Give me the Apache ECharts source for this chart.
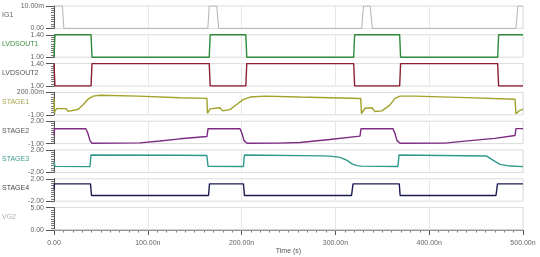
<!DOCTYPE html>
<html><head><meta charset="utf-8">
<script src="https://cdn.jsdelivr.net/npm/echarts@6/dist/echarts.min.js"></script>
<style>html,body{margin:0;padding:0;background:#fff}#c{width:540px;height:257px}</style>
</head><body><div id="c"></div>
<script>
const names = ['IG1','LVDSOUT1','LVDSOUT2','STAGE1','STAGE2','STAGE3','STAGE4','VG2'];
const yMin = [0, 1.0, 1.0, -1, -1, -2, -2, 0];
const yMax = [10, 1.4, 1.4, 0.2, 2, 2, 2, 5];
const yTopLabels = ['10.00m','1.40','1.40','200.00m','2.00','2.00','2.00','5.00'];
const yBottomLabels = ['0.00','1.00','1.00','-1.00','-1.00','-2.00','-2.00','0.00'];
const xTicks = [0,100,200,300,400,500];
const xTickLabels = ['0.00','100.00n','200.00n','300.00n','400.00n','500.00n'];
const xTitle = 'Time (s)';

// time in ns, values in panel units (IG1 in m)
const ig1 = [[0,10],[9,10],[10.5,0],[164,0],[165.5,10],[173.5,10],[175.5,0],[328,0],[330,10],[337,10],[339.5,0],[492.5,0],[494.5,10],[500,10]];
const lvdsout1 = [[0,1.0],[1,1.4],[39.5,1.4],[40.5,1.0],[165.5,1.0],[166.5,1.4],[204.5,1.4],[205.5,1.0],[319.5,1.0],[320.5,1.4],[368.5,1.4],[369.5,1.0],[473,1.0],[474,1.4],[500,1.4]];
const lvdsout2 = [[0,1.4],[1,1.0],[39.5,1.0],[40.5,1.4],[165.5,1.4],[166.5,1.0],[204.5,1.0],[205.5,1.4],[319.5,1.4],[320.5,1.0],[368.5,1.0],[369.5,1.4],[473,1.4],[474,1.0],[500,1.0]];
const stage1 = [[0,-0.12],[0.5,-0.92],[1.1,-0.79],[2.9,-0.67],[12.8,-0.67],[13.5,-0.57],[15.2,-0.82],[25.9,-0.70],[31.2,-0.45],[36.6,-0.15],[41.9,0.0],[49,0.05],[90,0.0],[134.3,-0.085],[163,-0.12],
  [163.6,-0.92],[166.3,-0.68],[176.9,-0.62],[178.8,-0.57],[179.9,-0.79],[187.6,-0.72],[195.1,-0.435],[201.5,-0.185],[209,-0.05],[225,0.0],[262,-0.05],[327,-0.13],
  [327.8,-0.93],[331.6,-0.65],[339,-0.62],[340,-0.57],[342,-0.82],[349.7,-0.79],[358,-0.485],[363.5,-0.12],[369,0.0],[385,0.0],[440,-0.08],[491.5,-0.17],
  [492.5,-0.95],[495.7,-0.79],[500,-0.7]];
const stage2 = [[0,0.09],[0.5,1.0],[34,0.98],[36.2,0.36],[38.4,-0.6],[40.5,-0.96],[91.7,-0.9],[113,-0.66],[134.3,-0.36],[163.1,-0.05],
  [164.2,1.0],[198.3,0.98],[200.4,0.36],[202.6,-0.6],[205.8,-0.96],[240,-0.93],[262.3,-0.86],[294,-0.46],[326.2,0.0],
  [327.3,1.0],[361.4,0.98],[363.5,0.36],[365.7,-0.6],[368.9,-0.96],[416.8,-0.93],[443.5,-0.6],[470,-0.3],[491.5,0.09],
  [492.5,1.0],[500,1.0]];
const stage3 = [[0,-0.08],[1,-0.92],[38.4,-0.97],[39.4,1.1],[134,1.05],[163,1.01],
  [164.2,-0.92],[202,-0.95],[203,1.1],[286.8,0.95],[294.2,0.9],[305,0.68],[312.4,0.14],[317.7,-0.48],[323,-0.79],[327.3,-0.88],
  [327.8,-0.92],[366.7,-0.95],[367.8,1.1],[461.3,0.92],[468.3,0.15],[475.5,-0.56],[486.1,-0.87],[500,-0.97]];
const stage4 = [[0,0.09],[0.5,1.1],[38.9,1.1],[40,-0.98],[164.7,-0.98],[165.8,1.1],[202,1.1],[203,-0.98],[317.2,-0.98],[318.8,1.1],[368.1,1.1],[369,-0.98],[471.2,-0.98],[472.8,1.1],[500,1.1]];
const vg2 = [[0,0],[500,0]];

const seriesData = [ig1, lvdsout1, lvdsout2, stage1, stage2, stage3, stage4, vg2];
const lineColors = ['#b4b4b4','#2f8a3a','#8c1f30','#a2a22a','#7c2a82','#2f9a8c','#1c1c52','#c8c8c8'];
const labelColors = ['#666','#3d8c42','#555','#a6a650','#555','#3f9e90','#444','#b0b0b0'];

const leftPx = 54, rightPx = 17;
const top0 = 6, step = 28.8, ph = 22.4;

const grids = [], xAxes = [], yAxes = [], series = [], graphics = [];
for (let i = 0; i < names.length; i++) {
  const top = top0 + i * step;
  const last = i === names.length - 1;
  grids.push({left: leftPx, right: rightPx, top: top, height: ph, show: true, borderColor: '#dcdcdc', borderWidth: 1, backgroundColor: '#fff'});
  xAxes.push({
    type: 'value', gridIndex: i, min: 0, max: 500, interval: 100,
    axisLine: {show: last, onZero: false, lineStyle: {color: '#555', width: 1}},
    axisTick: {show: last, length: 5, lineStyle: {color: '#555'}},
    minorTick: {show: last, splitNumber: 10, length: 2.5, lineStyle: {color: '#777'}},
    axisLabel: {show: last, fontSize: 7, color: '#666', margin: 10, fontFamily: 'Liberation Sans, Arial',
      formatter: v => xTickLabels[xTicks.indexOf(v)]},
    splitLine: {show: true, lineStyle: {color: '#e8e8e8', width: 1}},
    name: last ? xTitle : '', nameLocation: 'middle', nameGap: 18,
    nameTextStyle: {fontSize: 7, color: '#555', fontFamily: 'Liberation Sans, Arial'}
  });
  const mn = yMin[i], mx = yMax[i];
  yAxes.push({
    type: 'value', gridIndex: i, min: mn, max: mx,
    axisLine: {show: true, onZero: false, lineStyle: {color: '#555', width: 1}},
    axisTick: {show: true, length: 8, customValues: [mn, mx], lineStyle: {color: '#555'}},
    axisLabel: {show: true, customValues: [mn, mx], fontSize: 7, color: '#666', margin: 10,
      fontFamily: 'Liberation Sans, Arial',
      formatter: v => (Math.abs(v - mn) < 1e-9 ? yBottomLabels[i] : yTopLabels[i])},
    splitLine: {show: false}
  });
  const minorVals = [];
  for (let k = 1; k < 10; k++) minorVals.push(mn + (mx - mn) * k / 10);
  yAxes.push({
    type: 'value', gridIndex: i, min: mn, max: mx, position: 'left',
    axisLine: {show: false},
    axisTick: {show: true, length: 3, customValues: minorVals, lineStyle: {color: '#777'}},
    axisLabel: {show: false}, splitLine: {show: false}
  });
  series.push({
    type: 'line', xAxisIndex: i, yAxisIndex: 2 * i, data: seriesData[i],
    showSymbol: false, symbol: 'none', animation: false,
    lineStyle: {color: lineColors[i], width: i === 0 ? 1 : 1.4}
  });
  graphics.push({type: 'text', left: 2, top: top + 6, style: {text: names[i], fontSize: 7, fill: labelColors[i], fontFamily: 'Liberation Sans, Arial'}});
}

const chart = echarts.init(document.getElementById('c'), null, {renderer: 'canvas'});
chart.setOption({animation: false, grid: grids, xAxis: xAxes, yAxis: yAxes, series: series, graphic: graphics});
</script></body></html>
